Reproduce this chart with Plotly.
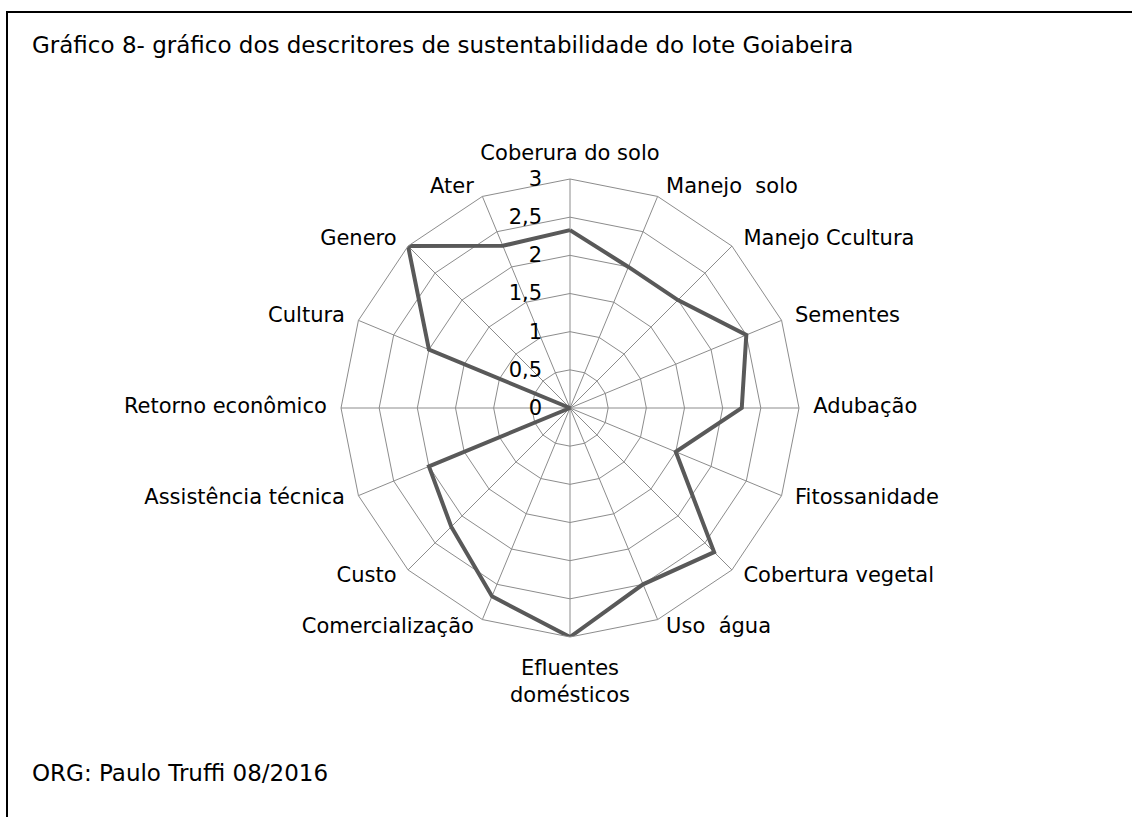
import plotly.graph_objects as go

CATEGORIAS = [
    "Coberura do solo",
    "Manejo\u00a0 solo",
    "Manejo Ccultura",
    "Sementes",
    "Adubação",
    "Fitossanidade",
    "Cobertura vegetal",
    "Uso\u00a0 água",
    "Efluentes<br>domésticos",
    "Comercialização",
    "Custo",
    "Assistência técnica",
    "Retorno econômico",
    "Cultura",
    "Genero",
    "Ater",
]
VALORES = [2.33, 2.0, 2.0, 2.5, 2.25, 1.5, 2.67, 2.5, 3.0, 2.67, 2.2, 2.0, 0.0, 2.0, 3.0, 2.3]
TICKS = [0, 0.5, 1, 1.5, 2, 2.5, 3]

TITULO = "Gráfico 8- gráfico dos descritores de sustentabilidade do lote Goiabeira"
FONTE = "ORG: Paulo Truffi 08/2016"

W, H = 1132, 817
CX, CY, R = 570, 408, 229
FONT = "DejaVu Sans, sans-serif"
GRID = "#8c8c8c"
R_MAX = 3
R_OUTER = 3.4  # invisible polar used only to place the category labels

# where each category label sits around its spoke (Excel style)
POS_LABEL = (
    ["top center"]
    + ["middle right"] * 7
    + ["bottom center"]
    + ["middle left"] * 7
)
R_LABEL = [3.12] * 8 + [3.22] + [3.12] * 7


def dominio(raio):
    return dict(
        x=[(CX - raio) / W, (CX + raio) / W],
        y=[(H - CY - raio) / H, (H - CY + raio) / H],
    )


fig = go.Figure()
fig.add_trace(
    go.Scatterpolar(
        r=VALORES + VALORES[:1],
        theta=CATEGORIAS + CATEGORIAS[:1],
        mode="lines",
        line=dict(color="#595959", width=4),
        showlegend=False,
        hoverinfo="skip",
    )
)
fig.add_trace(
    go.Scatterpolar(
        r=R_LABEL,
        theta=CATEGORIAS,
        text=CATEGORIAS,
        mode="markers+text",
        marker=dict(size=6.4, color="rgba(0,0,0,0)"),
        textposition=POS_LABEL,
        textfont=dict(family=FONT, size=21, color="black"),
        cliponaxis=False,
        showlegend=False,
        hoverinfo="skip",
        subplot="polar2",
    )
)

eixo_angular = dict(
    direction="clockwise",
    rotation=90,
    categoryorder="array",
    categoryarray=CATEGORIAS,
    ticks="",
    showticklabels=False,
)

fig.update_layout(
    width=W,
    height=H,
    margin=dict(l=0, r=0, t=0, b=0),
    paper_bgcolor="white",
    plot_bgcolor="white",
    separators=",.",
    font=dict(family=FONT, size=21, color="black"),
    polar=dict(
        domain=dominio(R),
        gridshape="linear",
        bgcolor="white",
        angularaxis=dict(
            eixo_angular,
            showgrid=True,
            gridcolor=GRID,
            gridwidth=1,
            linecolor=GRID,
            linewidth=1,
        ),
        radialaxis=dict(
            range=[0, R_MAX],
            tickvals=TICKS,
            angle=90,
            tickangle=90,
            side="counterclockwise",
            showgrid=True,
            gridcolor=GRID,
            gridwidth=1,
            showline=False,
            ticks="outside",
            ticklen=20,
            tickcolor="rgba(0,0,0,0)",
            tickfont=dict(size=21),
        ),
    ),
    polar2=dict(
        domain=dominio(R * R_OUTER / R_MAX),
        gridshape="linear",
        bgcolor="rgba(0,0,0,0)",
        angularaxis=dict(eixo_angular, showgrid=False, showline=False),
        radialaxis=dict(range=[0, R_OUTER], visible=False),
    ),
    shapes=[
        dict(
            type="rect",
            xref="paper",
            yref="paper",
            x0=7 / W,
            x1=1.05,
            y0=-0.05,
            y1=(H - 12) / H,
            line=dict(color="black", width=2),
        )
    ],
    annotations=[
        dict(
            text=TITULO,
            xref="paper",
            yref="paper",
            x=30 / W,
            y=(H - 45) / H,
            xanchor="left",
            yanchor="middle",
            showarrow=False,
            font=dict(size=23),
        ),
        dict(
            text=FONTE,
            xref="paper",
            yref="paper",
            x=30 / W,
            y=(H - 773) / H,
            xanchor="left",
            yanchor="middle",
            showarrow=False,
            font=dict(size=23),
        ),
    ],
)

fig.write_html(
    "out.html",
    config={"displayModeBar": False},
    post_script="document.body.style.margin='0';document.body.style.overflow='hidden';",
)
